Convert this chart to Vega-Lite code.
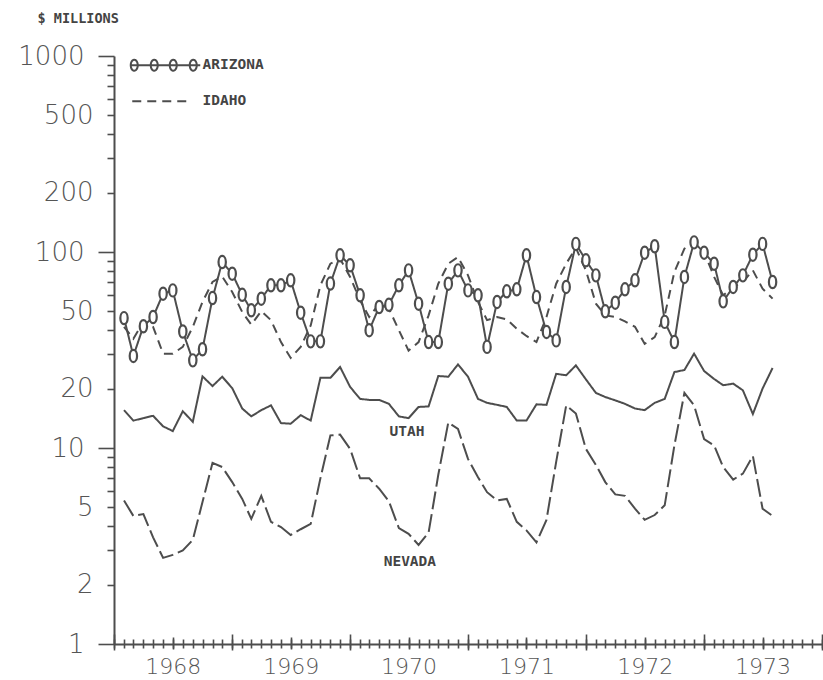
{
  "$schema": "https://vega.github.io/schema/vega-lite/v6.json",
  "width": 708,
  "height": 588,
  "autosize": "none",
  "padding": {"left": 114, "top": 56, "right": 1, "bottom": 36},
  "background": "white",
  "config": {
    "view": {"stroke": null},
    "axis": {"domainColor": "#4d4d4d", "tickColor": "#4d4d4d", "labelColor": "#555555", "domainWidth": 2, "tickWidth": 1.6, "grid": false, "labelOverlap": false, "labelFlush": false}
  },
  "data": {"values": [
    {"date": "1968/02/01", "ARIZONA": 46, "IDAHO": 41.5, "UTAH": 15.6, "NEVADA": 5.4},
    {"date": "1968/03/01", "ARIZONA": 29.5, "IDAHO": 36.1, "UTAH": 13.8, "NEVADA": 4.5},
    {"date": "1968/04/01", "ARIZONA": 41.8, "IDAHO": 44, "UTAH": 14.2, "NEVADA": 4.6},
    {"date": "1968/05/01", "ARIZONA": 46.6, "IDAHO": 41.5, "UTAH": 14.6, "NEVADA": 3.5},
    {"date": "1968/06/01", "ARIZONA": 61.3, "IDAHO": 30.3, "UTAH": 12.9, "NEVADA": 2.75},
    {"date": "1968/07/01", "ARIZONA": 63.7, "IDAHO": 30.3, "UTAH": 12.2, "NEVADA": 2.85},
    {"date": "1968/08/01", "ARIZONA": 39.3, "IDAHO": 32.8, "UTAH": 15.4, "NEVADA": 3.0},
    {"date": "1968/09/01", "ARIZONA": 28, "IDAHO": 41.5, "UTAH": 13.6, "NEVADA": 3.4},
    {"date": "1968/10/01", "ARIZONA": 31.9, "IDAHO": 55.6, "UTAH": 23.2, "NEVADA": 5.3},
    {"date": "1968/11/01", "ARIZONA": 58.2, "IDAHO": 70.3, "UTAH": 20.7, "NEVADA": 8.4},
    {"date": "1968/12/01", "ARIZONA": 88.9, "IDAHO": 75, "UTAH": 23.1, "NEVADA": 8.0},
    {"date": "1969/01/01", "ARIZONA": 77.5, "IDAHO": 62.5, "UTAH": 20.2, "NEVADA": 6.7},
    {"date": "1969/02/01", "ARIZONA": 60.5, "IDAHO": 49.4, "UTAH": 15.9, "NEVADA": 5.5},
    {"date": "1969/03/01", "ARIZONA": 50.4, "IDAHO": 42.6, "UTAH": 14.5, "NEVADA": 4.35},
    {"date": "1969/04/01", "ARIZONA": 57.8, "IDAHO": 50, "UTAH": 15.6, "NEVADA": 5.7},
    {"date": "1969/05/01", "ARIZONA": 67.6, "IDAHO": 44.9, "UTAH": 16.5, "NEVADA": 4.2},
    {"date": "1969/06/01", "ARIZONA": 67.6, "IDAHO": 34.7, "UTAH": 13.4, "NEVADA": 3.95},
    {"date": "1969/07/01", "ARIZONA": 71.7, "IDAHO": 28.8, "UTAH": 13.3, "NEVADA": 3.6},
    {"date": "1969/08/01", "ARIZONA": 49, "IDAHO": 32.8, "UTAH": 14.7, "NEVADA": 3.85},
    {"date": "1969/09/01", "ARIZONA": 35, "IDAHO": 42.2, "UTAH": 13.8, "NEVADA": 4.1},
    {"date": "1969/10/01", "ARIZONA": 35, "IDAHO": 67.6, "UTAH": 22.8, "NEVADA": 7.0},
    {"date": "1969/11/01", "ARIZONA": 69, "IDAHO": 87.2, "UTAH": 22.8, "NEVADA": 11.6},
    {"date": "1969/12/01", "ARIZONA": 96.2, "IDAHO": 92.4, "UTAH": 25.9, "NEVADA": 11.7},
    {"date": "1970/01/01", "ARIZONA": 85.5, "IDAHO": 74.6, "UTAH": 20.5, "NEVADA": 9.9},
    {"date": "1970/02/01", "ARIZONA": 60.1, "IDAHO": 56.6, "UTAH": 17.8, "NEVADA": 7.0},
    {"date": "1970/03/01", "ARIZONA": 39.9, "IDAHO": 46.6, "UTAH": 17.6, "NEVADA": 7.0},
    {"date": "1970/04/01", "ARIZONA": 52.4, "IDAHO": 54.5, "UTAH": 17.6, "NEVADA": 6.2},
    {"date": "1970/05/01", "ARIZONA": 53.8, "IDAHO": 51.4, "UTAH": 16.8, "NEVADA": 5.35},
    {"date": "1970/06/01", "ARIZONA": 67.6, "IDAHO": 39.9, "UTAH": 14.5, "NEVADA": 3.9},
    {"date": "1970/07/01", "ARIZONA": 80.6, "IDAHO": 31.4, "UTAH": 14.2, "NEVADA": 3.65},
    {"date": "1970/08/01", "ARIZONA": 54.5, "IDAHO": 34.7, "UTAH": 16.2, "NEVADA": 3.2},
    {"date": "1970/09/01", "ARIZONA": 34.7, "IDAHO": 47.5, "UTAH": 16.3, "NEVADA": 3.7},
    {"date": "1970/10/01", "ARIZONA": 34.7, "IDAHO": 68.9, "UTAH": 23.3, "NEVADA": 7.3},
    {"date": "1970/11/01", "ARIZONA": 68.9, "IDAHO": 87.2, "UTAH": 23.1, "NEVADA": 13.5},
    {"date": "1970/12/01", "ARIZONA": 80.6, "IDAHO": 94.3, "UTAH": 26.7, "NEVADA": 12.5},
    {"date": "1971/01/01", "ARIZONA": 63.7, "IDAHO": 76, "UTAH": 23.1, "NEVADA": 8.8},
    {"date": "1971/02/01", "ARIZONA": 60.1, "IDAHO": 55.6, "UTAH": 17.8, "NEVADA": 7.1},
    {"date": "1971/03/01", "ARIZONA": 32.8, "IDAHO": 44.9, "UTAH": 17.0, "NEVADA": 5.95},
    {"date": "1971/04/01", "ARIZONA": 55.6, "IDAHO": 46.6, "UTAH": 16.6, "NEVADA": 5.4},
    {"date": "1971/05/01", "ARIZONA": 63, "IDAHO": 45.3, "UTAH": 16.2, "NEVADA": 5.5},
    {"date": "1971/06/01", "ARIZONA": 64.5, "IDAHO": 40.6, "UTAH": 13.8, "NEVADA": 4.2},
    {"date": "1971/07/01", "ARIZONA": 96.2, "IDAHO": 37.3, "UTAH": 13.8, "NEVADA": 3.8},
    {"date": "1971/08/01", "ARIZONA": 58.9, "IDAHO": 34.7, "UTAH": 16.7, "NEVADA": 3.3},
    {"date": "1971/09/01", "ARIZONA": 39.1, "IDAHO": 46.6, "UTAH": 16.6, "NEVADA": 4.3},
    {"date": "1971/10/01", "ARIZONA": 35.4, "IDAHO": 68.9, "UTAH": 23.9, "NEVADA": 8.5},
    {"date": "1971/11/01", "ARIZONA": 66.3, "IDAHO": 87.2, "UTAH": 23.5, "NEVADA": 16.5},
    {"date": "1971/12/01", "ARIZONA": 110, "IDAHO": 105, "UTAH": 26.4, "NEVADA": 15.0},
    {"date": "1972/01/01", "ARIZONA": 90.7, "IDAHO": 80.6, "UTAH": 22.4, "NEVADA": 9.9},
    {"date": "1972/02/01", "ARIZONA": 76, "IDAHO": 54.5, "UTAH": 19.1, "NEVADA": 8.2},
    {"date": "1972/03/01", "ARIZONA": 49.8, "IDAHO": 47.5, "UTAH": 18.2, "NEVADA": 6.7},
    {"date": "1972/04/01", "ARIZONA": 55.1, "IDAHO": 46.6, "UTAH": 17.5, "NEVADA": 5.8},
    {"date": "1972/05/01", "ARIZONA": 64.5, "IDAHO": 44.3, "UTAH": 16.8, "NEVADA": 5.7},
    {"date": "1972/06/01", "ARIZONA": 71.7, "IDAHO": 41.5, "UTAH": 15.9, "NEVADA": 4.9},
    {"date": "1972/07/01", "ARIZONA": 99.2, "IDAHO": 34, "UTAH": 15.6, "NEVADA": 4.3},
    {"date": "1972/08/01", "ARIZONA": 107, "IDAHO": 36.8, "UTAH": 17.0, "NEVADA": 4.55},
    {"date": "1972/09/01", "ARIZONA": 44, "IDAHO": 47.5, "UTAH": 17.8, "NEVADA": 5.1},
    {"date": "1972/10/01", "ARIZONA": 34.7, "IDAHO": 79.1, "UTAH": 24.4, "NEVADA": 10.3},
    {"date": "1972/11/01", "ARIZONA": 74.6, "IDAHO": 104, "UTAH": 25.0, "NEVADA": 19.1},
    {"date": "1972/12/01", "ARIZONA": 112, "IDAHO": 112, "UTAH": 30.3, "NEVADA": 16.5},
    {"date": "1973/01/01", "ARIZONA": 99.2, "IDAHO": 100, "UTAH": 24.7, "NEVADA": 11.1},
    {"date": "1973/02/01", "ARIZONA": 87.2, "IDAHO": 74.6, "UTAH": 22.5, "NEVADA": 10.3},
    {"date": "1973/03/01", "ARIZONA": 56, "IDAHO": 60.1, "UTAH": 20.9, "NEVADA": 8.0},
    {"date": "1973/04/01", "ARIZONA": 66.3, "IDAHO": 66.3, "UTAH": 21.3, "NEVADA": 6.9},
    {"date": "1973/05/01", "ARIZONA": 76, "IDAHO": 70.3, "UTAH": 19.7, "NEVADA": 7.4},
    {"date": "1973/06/01", "ARIZONA": 96.9, "IDAHO": 80.6, "UTAH": 14.9, "NEVADA": 9.1},
    {"date": "1973/07/01", "ARIZONA": 110, "IDAHO": 65, "UTAH": 20.1, "NEVADA": 4.9},
    {"date": "1973/08/01", "ARIZONA": 70.3, "IDAHO": 57.8, "UTAH": 25.6, "NEVADA": 4.5}
  ]},
  "layer": [
    {
      "transform": [{"fold": ["ARIZONA", "IDAHO"], "as": ["state", "value"]}],
      "mark": {"type": "line", "strokeWidth": 2, "color": "#4d4d4d"},
      "encoding": {
        "x": {"field": "date", "type": "temporal",
          "scale": {"domain": [{"year": 1968, "month": 1, "date": 1}, {"year": 1974, "month": 1, "date": 1}]},
          "axis": {"orient": "bottom", "title": null, "values": [
            {"year": 1968, "month": 1, "date": 1}, {"year": 1969, "month": 1, "date": 1}, {"year": 1970, "month": 1, "date": 1},
            {"year": 1971, "month": 1, "date": 1}, {"year": 1972, "month": 1, "date": 1}, {"year": 1973, "month": 1, "date": 1},
            {"year": 1974, "month": 1, "date": 1}],
            "tickSize": 16, "offset": -10, "domain": false, "labels": false}},
        "y": {"field": "value", "type": "quantitative",
          "scale": {"type": "log", "domain": [1, 1000], "nice": false},
          "axis": {"orient": "left", "values": [1, 10, 100, 1000], "format": "d", "tickSize": 16, "labelPadding": 14,
            "labelFont": "DejaVu Sans", "labelFontWeight": 200, "labelFontSize": 26, "labelBaseline": "middle",
            "domain": true,
            "title": "$ MILLIONS", "titleAngle": 0, "titleX": -77, "titleY": -38, "titleAlign": "left", "titleBaseline": "middle",
            "titleFont": "DejaVu Sans Mono", "titleFontWeight": "bold", "titleFontSize": 13.5, "titleColor": "#444444"}},
        "strokeDash": {"field": "state", "type": "nominal",
          "scale": {"domain": ["ARIZONA", "IDAHO", "UTAH", "NEVADA"], "range": [[1, 0], [9, 6], [1, 0], [18, 5]]},
          "legend": {"values": ["ARIZONA", "IDAHO"], "orient": "none", "legendX": 44, "legendY": 2, "title": null, "padding": 0,
            "direction": "vertical", "symbolSize": 100, "symbolStrokeWidth": 2, "symbolStrokeColor": "#4d4d4d",
            "symbolFillColor": "transparent", "labelOffset": 30, "labelFont": "DejaVu Sans Mono", "labelFontWeight": "bold",
            "labelFontSize": 14.5, "labelColor": "#444444", "rowPadding": 18,
            "encode": {"symbols": {"update": {"shape": {"signal": "datum.value === 'ARIZONA' ? 'M-7,0L7,0M-6.2,-1.1A0.7,1.1,0,1,1,-6.2,1.1A0.7,1.1,0,1,1,-6.2,-1.1ZM-2.2,-1.1A0.7,1.1,0,1,1,-2.2,1.1A0.7,1.1,0,1,1,-2.2,-1.1ZM1.6,-1.1A0.7,1.1,0,1,1,1.6,1.1A0.7,1.1,0,1,1,1.6,-1.1ZM5.6,-1.1A0.7,1.1,0,1,1,5.6,1.1A0.7,1.1,0,1,1,5.6,-1.1Z' : 'M-6.6,0L5.4,0'"}}}}}}
      }
    },
    {
      "transform": [{"fold": ["UTAH", "NEVADA"], "as": ["state", "value"]}],
      "mark": {"type": "line", "strokeWidth": 2, "color": "#4d4d4d"},
      "encoding": {
        "x": {"field": "date", "type": "temporal",
          "axis": {"orient": "bottom", "title": null, "tickCount": {"interval": "month", "step": 1}, "tickSize": 9, "offset": -5, "domain": false, "labels": false}},
        "y": {"field": "value", "type": "quantitative",
          "axis": {"orient": "left", "values": [2, 3, 4, 5, 6, 7, 8, 9, 20, 30, 40, 50, 60, 70, 80, 90, 200, 300, 400, 500, 600, 700, 800, 900],
            "labelExpr": "indexof([2, 5, 20, 50, 200, 500], datum.value) >= 0 ? format(datum.value, 'd') : ''",
            "tickSize": 7, "labelPadding": 14, "labelFont": "DejaVu Sans", "labelFontWeight": 200, "labelFontSize": 26,
            "labelBaseline": "middle", "domain": false, "title": null}},
        "strokeDash": {"field": "state", "type": "nominal", "legend": null}
      }
    },
    {
      "transform": [{"fold": ["ARIZONA"], "as": ["state", "value"]}],
      "mark": {"type": "point", "shape": "M0,-1C0.34,-1,0.6,-0.55,0.6,0C0.6,0.55,0.34,1,0,1C-0.34,1,-0.6,0.55,-0.6,0C-0.6,-0.55,-0.34,-1,0,-1Z",
        "size": 150, "filled": true, "fill": "white", "stroke": "#4d4d4d", "strokeWidth": 2.2, "opacity": 1},
      "encoding": {
        "x": {"field": "date", "type": "temporal",
          "axis": {"orient": "bottom", "title": null, "values": [
            {"year": 1968, "month": 7, "date": 1}, {"year": 1969, "month": 7, "date": 1}, {"year": 1970, "month": 7, "date": 1},
            {"year": 1971, "month": 7, "date": 1}, {"year": 1972, "month": 7, "date": 1}, {"year": 1973, "month": 7, "date": 1}],
            "format": "%Y", "tickSize": 12, "offset": -7, "labelPadding": 7, "domain": false,
            "labelFont": "DejaVu Sans", "labelFontWeight": 200, "labelFontSize": 22}},
        "y": {"field": "value", "type": "quantitative", "axis": null}
      }
    },
    {
      "data": {"values": [{}]},
      "mark": {"type": "text", "text": "UTAH", "font": "DejaVu Sans Mono", "fontWeight": "bold", "fontSize": 14.5, "color": "#444444"},
      "encoding": {
        "x": {"datum": {"year": 1970, "month": 6, "date": 26}, "type": "temporal",
          "axis": {"orient": "bottom", "title": null, "ticks": false, "labels": false, "domain": true, "offset": 0}},
        "y": {"datum": 12.1, "type": "quantitative", "axis": null}
      }
    },
    {
      "data": {"values": [{}]},
      "mark": {"type": "text", "text": "NEVADA", "font": "DejaVu Sans Mono", "fontWeight": "bold", "fontSize": 14.5, "color": "#444444"},
      "encoding": {
        "x": {"datum": {"year": 1970, "month": 7, "date": 5}, "type": "temporal", "axis": null},
        "y": {"datum": 2.62, "type": "quantitative", "axis": null}
      }
    }
  ],
  "resolve": {"scale": {"x": "shared", "y": "shared", "strokeDash": "shared"}, "axis": {"x": "independent", "y": "independent"}}
}
